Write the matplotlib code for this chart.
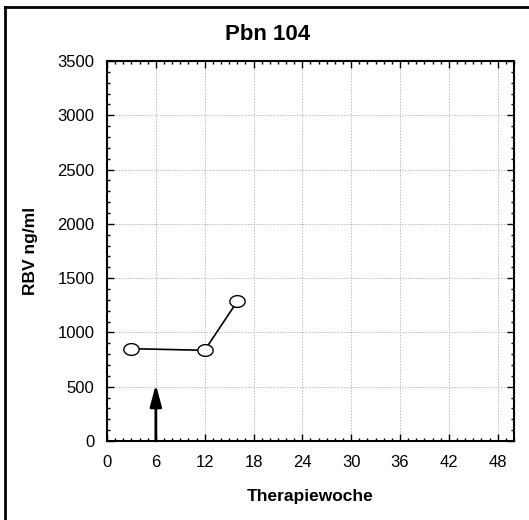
import numpy as np
import matplotlib.pyplot as plt
from matplotlib.path import Path
from matplotlib.ticker import MultipleLocator

# Daten
wochen = [3, 12, 16]
rbv = [850, 835, 1285]
pfeil_woche = 6
pfeil_hoehe = 520

x_ticks = [0, 6, 12, 18, 24, 30, 36, 42, 48]
y_ticks = [0, 500, 1000, 1500, 2000, 2500, 3000, 3500]

plt.rcParams["font.family"] = ["Liberation Sans", "DejaVu Sans"]

fig = plt.figure(figsize=(5.29, 5.2), dpi=100)
ax = fig.add_axes([0.2023, 0.152, 0.7693, 0.7307])

# Rahmen oben und links
fig.add_artist(plt.Line2D([5 / 529, 1], [1 - 7 / 520, 1 - 7 / 520],
                          color="black", lw=2, transform=fig.transFigure))
fig.add_artist(plt.Line2D([5 / 529, 5 / 529], [0, 1 - 7 / 520],
                          color="black", lw=2, transform=fig.transFigure))

# ellipsenfoermiger Marker
t = np.linspace(0, 2 * np.pi, 60)
ellipse = Path(np.column_stack([1.3 * np.cos(t), np.sin(t)]))

ax.plot(wochen, rbv, color="black", lw=1.2, marker=ellipse,
        markersize=11, markerfacecolor="white", markeredgecolor="black",
        markeredgewidth=1, zorder=3)

ax.annotate("", xy=(pfeil_woche, pfeil_hoehe), xytext=(pfeil_woche, 0),
            arrowprops=dict(arrowstyle="-|>,head_length=1.3,head_width=0.35",
                            color="black", lw=2, shrinkA=0, shrinkB=0))

ax.set_xlim(0, 50)
ax.set_ylim(0, 3500)
ax.set_xticks(x_ticks)
ax.set_yticks(y_ticks)
ax.xaxis.set_minor_locator(MultipleLocator(1))
ax.yaxis.set_minor_locator(MultipleLocator(100))

ax.tick_params(which="both", direction="in", top=True, right=True,
               labelsize=12, width=1)
ax.tick_params(which="major", length=5)
ax.tick_params(axis="x", which="major", pad=10)
ax.tick_params(axis="y", which="major", pad=9)
ax.tick_params(which="minor", length=2.5)
for s in ax.spines.values():
    s.set_linewidth(1.5)

ax.grid(True, which="major", color="#bbbbbb", ls=(0, (1.5, 1.5)), lw=0.7)

fig.text(0.505, 0.934, "Pbn 104", ha="center", va="center",
         fontsize=16, fontweight="bold")
ax.set_xlabel("Therapiewoche", fontsize=12.5, fontweight="bold", labelpad=14)
ax.set_ylabel("RBV ng/ml", fontsize=12.5, fontweight="bold", labelpad=14)

fig.savefig("out.png", dpi=100)
